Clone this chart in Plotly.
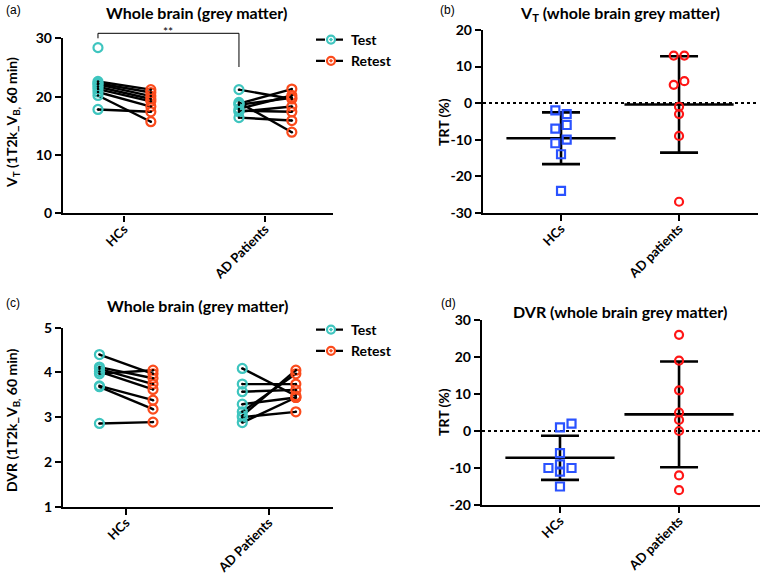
import plotly.graph_objects as go
import numpy as np

W, H = 760, 574

# ---------------- data ----------------
groups_ac = ["HCs", "AD Patients"]
groups_bd = ["HCs", "AD patients"]

vt_hc_test = [28.4, 22.6, 22.3, 22.1, 21.7, 21.3, 20.8, 20.2, 17.8]
vt_hc_retest = [None, 21.2, 20.7, 20.1, 19.6, 19.2, 18.3, 15.7, 17.4]
vt_ad_test = [21.2, 19.0, 18.8, 17.9, 18.6, 17.4, 17.6, 16.4]
vt_ad_retest = [19.6, 13.9, 21.3, 20.2, 19.8, 18.3, 17.4, 15.9]

dvr_hc_test = [4.40, 4.12, 4.08, 4.02, 3.97, 3.70, 3.68, 2.86]
dvr_hc_retest = [3.97, 3.87, 3.74, 3.62, 4.05, 3.38, 3.18, 2.89]
dvr_ad_test = [4.09, 3.74, 3.57, 3.29, 3.12, 3.03, 3.00, 2.88]
dvr_ad_retest = [3.48, 3.74, 3.61, 3.44, 3.97, 4.05, 3.12, 3.44]

vt_trt_hc = [-2, -3, -6, -7, -10, -11, -14, -24]
vt_trt_ad = [13, 13, 5, 6, -1, -3, -9, -27]
dvr_trt_hc = [2, 1, -6, -9, -10, -10, -11, -15]
dvr_trt_ad = [26, 19, 11, 5, 3, 0, -12, -16]

vt_ticks = [0, 10, 20, 30]
dvr_ticks = [1, 2, 3, 4, 5]
vt_trt_ticks = [-30, -20, -10, 0, 10, 20]
dvr_trt_ticks = [-20, -10, 0, 10, 20, 30]

# horizontal scatter offsets (style only)
vt_hc_jit = [-1, 1, 1, -1, 1, -1, 0, 0]
vt_ad_jit = [-1, 1, -1, 1, 0, 0, 0, 0]
dvr_hc_jit = [1, 0, 0, 0, -1, 1, 0, 0]
dvr_ad_jit = [0, 0, 0, 0, 0, 0, 0, 0]

TEAL = "#3fc5bf"
ORANGE = "#fb4b1c"
BLUE = "#2a52ff"
RED = "#ff1616"
FONT = "Lato"

TEST_OFF, RETEST_OFF = -0.185, 0.19


def py(p):
    return 1 - p / H


def b(s):
    return f"<b>{s}</b>"


fig = go.Figure()


def paired_panel(xa, ya, gi_vals, legend_name):
    lx, ly, dx, dy = [], [], [], []
    tx, ty, rx, ry = [], [], [], []
    for gi, (test, retest) in enumerate(gi_vals):
        for t, r in zip(test, retest):
            if t is not None:
                tx.append(gi + TEST_OFF)
                ty.append(t)
            if r is not None:
                rx.append(gi + RETEST_OFF)
                ry.append(r)
            if t is not None and r is not None:
                lx += [gi + TEST_OFF, gi + RETEST_OFF, None]
                ly += [t, r, None]
                dx += [gi + TEST_OFF, gi + RETEST_OFF]
                dy += [t, r]
    fig.add_trace(go.Scatter(x=lx, y=ly, mode="lines", xaxis=xa, yaxis=ya,
                             line=dict(color="black", width=2.4), showlegend=False,
                             hoverinfo="skip"))
    fig.add_trace(go.Scatter(x=tx, y=ty, mode="markers", xaxis=xa, yaxis=ya,
                             marker=dict(symbol="circle-open", size=9, color=TEAL,
                                         line=dict(width=2.2, color=TEAL)),
                             showlegend=False))
    fig.add_trace(go.Scatter(x=rx, y=ry, mode="markers", xaxis=xa, yaxis=ya,
                             marker=dict(symbol="circle-open", size=9, color=ORANGE,
                                         line=dict(width=2.2, color=ORANGE)),
                             showlegend=False))
    fig.add_trace(go.Scatter(x=dx, y=dy, mode="markers", xaxis=xa, yaxis=ya,
                             marker=dict(symbol="circle", size=2.5, color="black"),
                             showlegend=False, hoverinfo="skip"))
    for name, col in (("Test", TEAL), ("Retest", ORANGE)):
        fig.add_trace(go.Scatter(x=[None], y=[None], mode="lines+markers", xaxis=xa, yaxis=ya,
                                 name=b(name), legend=legend_name,
                                 line=dict(color="black", width=2.2, dash="dash"),
                                 marker=dict(symbol="circle-open-dot", size=8, color=col,
                                             line=dict(width=2.2, color=col)),
                                 showlegend=True))


def trt_panel(xa, ya, hc, hc_jit, hc_jw, ad, ad_jit, ad_jw):
    for gi, (vals, jit, jw, sym, col) in enumerate(
            [(hc, hc_jit, hc_jw, "square-open", BLUE), (ad, ad_jit, ad_jw, "circle-open", RED)]):
        arr = np.array(vals, dtype=float)
        m, sd = arr.mean(), arr.std(ddof=1)
        fig.add_trace(go.Scatter(x=[gi], y=[m], mode="markers", xaxis=xa, yaxis=ya,
                                 marker=dict(symbol="line-ew", size=78, color="black",
                                             line=dict(width=2.6, color="black")),
                                 error_y=dict(type="data", array=[sd], visible=True,
                                              thickness=2.6, width=19, color="black"),
                                 showlegend=False, hoverinfo="skip"))
        fig.add_trace(go.Scatter(x=[gi + j * jw for j in jit], y=vals, mode="markers",
                                 xaxis=xa, yaxis=ya,
                                 marker=dict(symbol=sym, size=8, color=col,
                                             line=dict(width=2.2, color=col)),
                                 showlegend=False))


paired_panel("x", "y", [(vt_hc_test, vt_hc_retest), (vt_ad_test, vt_ad_retest)], "legend")
trt_panel("x2", "y2", vt_trt_hc, vt_hc_jit, 0.048, vt_trt_ad, vt_ad_jit, 0.045)
paired_panel("x3", "y3", [(dvr_hc_test, dvr_hc_retest), (dvr_ad_test, dvr_ad_retest)], "legend2")
trt_panel("x4", "y4", dvr_trt_hc, dvr_hc_jit, 0.097, dvr_trt_ad, dvr_ad_jit, 0.1)

tickfont = dict(family=FONT, size=14, color="black")
xtickfont = dict(family=FONT, size=13, color="black")
axcommon = dict(showline=True, linewidth=2.4, linecolor="black", ticks="outside",
                ticklen=6, tickwidth=2.4, tickcolor="black", showgrid=False,
                zeroline=False, fixedrange=True, automargin=False)


def xax(dom, rng, anchor, labels):
    return dict(domain=dom, range=rng, anchor=anchor, tickvals=[0, 1],
                ticktext=[b(t) for t in labels], tickangle=-45, tickfont=xtickfont,
                ticklabelstandoff=-5, **axcommon)


def yax(dom, rng, anchor, ticks):
    return dict(domain=dom, range=rng, anchor=anchor, tickvals=ticks,
                ticktext=[b(t) for t in ticks], tickfont=tickfont, **axcommon)


legfont = dict(family=FONT, size=14, color="black")
layout = dict(
    width=W, height=H, margin=dict(l=0, r=0, t=0, b=0, autoexpand=False),
    paper_bgcolor="white", plot_bgcolor="white",
    font=dict(family=FONT, color="black"),
    xaxis=xax([63 / W, 333 / W], [-0.433, 1.482], "y", groups_ac),
    yaxis=yax([py(213.3), py(38.3)], [0, 30], "x", vt_ticks),
    xaxis2=xax([483 / W, 758 / W], [-0.661, 1.669], "y2", groups_bd),
    yaxis2=yax([py(212.7), py(30)], [-30, 20], "x2", vt_trt_ticks),
    xaxis3=xax([63 / W, 333 / W], [-0.44, 1.45], "y3", groups_ac),
    yaxis3=yax([py(506.7), py(327.7)], [1, 5], "x3", dvr_ticks),
    xaxis4=xax([482 / W, 1.0], [-0.655, 1.68], "y4", groups_bd),
    yaxis4=yax([py(505), py(320)], [-20, 30], "x4", dvr_trt_ticks),
    legend=dict(x=311 / W, y=py(24), xanchor="left", yanchor="top", bgcolor="rgba(0,0,0,0)",
                font=legfont, tracegroupgap=0),
    legend2=dict(x=311 / W, y=py(314), xanchor="left", yanchor="top", bgcolor="rgba(0,0,0,0)",
                 font=legfont, tracegroupgap=0),
    showlegend=True,
)
fig.update_layout(**layout)

for xa, ya in (("x2", "y2"), ("x4", "y4")):
    fig.add_shape(type="line", xref=f"{xa} domain", yref=ya, x0=0, x1=1, y0=0, y1=0,
                  line=dict(color="black", width=2, dash="dot"), layer="below")

# significance bracket in panel (a)
fig.add_shape(type="path", xref="x", yref="paper",
              path=f"M {0 + TEST_OFF},{py(38.3)} L {0 + TEST_OFF},{py(33.3)} "
                   f"L {1 + TEST_OFF},{py(33.3)} L {1 + TEST_OFF},{py(67)}",
              line=dict(color="black", width=1))
fig.add_annotation(x=0.5 + TEST_OFF, xref="x", y=py(32), yref="paper", text="**",
                   showarrow=False, yanchor="middle", font=dict(family=FONT, size=12, color="black"))

titles = [
    (196, 12, b("Whole brain (grey matter)")),
    (620, 13, b("V<sub>T</sub> (whole brain grey matter)")),
    (198, 305, b("Whole brain (grey matter)")),
    (620, 311, b("DVR (whole brain grey matter)")),
]
for x, y, t in titles:
    fig.add_annotation(x=x / W, y=py(y), xref="paper", yref="paper", text=t, showarrow=False,
                       xanchor="center", yanchor="middle", font=dict(family=FONT, size=16, color="black"))

for x, y, t in [(4, 10, "(a)"), (438, 10, "(b)"), (4, 303, "(c)"), (439, 303, "(d)")]:
    fig.add_annotation(x=x / W, y=py(y), xref="paper", yref="paper", text=t, showarrow=False,
                       xanchor="left", yanchor="middle",
                       font=dict(family="Liberation Sans", size=12, color="black"))

ylabels = [
    (12, 123, b("V<sub>T</sub> (1T2k_V<sub>B,</sub> 60 min)")),
    (443, 122, b("TRT (%)")),
    (12, 421, b("DVR (1T2k_V<sub>B,</sub> 60 min)")),
    (443, 412, b("TRT (%)")),
]
for x, y, t in ylabels:
    fig.add_annotation(x=x / W, y=py(y), xref="paper", yref="paper", text=t, showarrow=False,
                       textangle=-90, xanchor="center", yanchor="middle",
                       font=dict(family=FONT, size=14, color="black"))

fig.write_html("out.html", config={"displayModeBar": False},
               post_script="document.body.style.margin='0px';")
